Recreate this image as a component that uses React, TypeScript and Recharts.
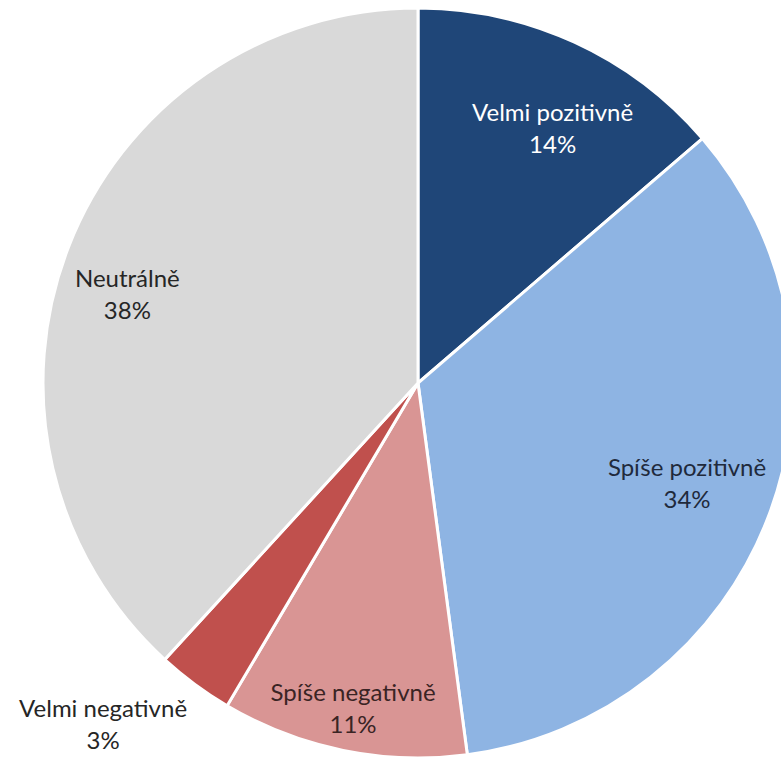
import { PieChart, Pie, Cell } from "recharts"

const categories = ["Velmi pozitivně", "Spíše pozitivně", "Spíše negativně", "Velmi negativně", "Neutrálně"]
const shares = [13.7, 34.2, 10.6, 3.3, 38.2]
const colors = ["#1F4678", "#8EB4E3", "#D99594", "#C0504D", "#D9D9D9"]
const textColors = ["#FFFFFF", "#1F2A3C", "#3A2424", "#262626", "#262626"]

// label placement per slice: distance from centre, angle shift (deg, clockwise)
const labelRadius = [288, 287, 331, 464, 304]
const labelShift = [3.2, -0.5, -0.2, 6.2, -4.2]

const data = categories.map((name, i) => ({ name, value: shares[i] }))

const RAD = Math.PI / 180

function renderLabel(props: any) {
  const { cx, cy, midAngle, index, name, value } = props
  const a = (midAngle - labelShift[index]) * RAD
  const r = labelRadius[index]
  const x = cx + r * Math.cos(-a)
  const y = cy + r * Math.sin(-a)
  return (
    <text
      x={x}
      y={y}
      textAnchor="middle"
      fill={textColors[index]}
      fontFamily="Lato, sans-serif"
      fontSize={24}
    >
      <tspan x={x} dy={-7}>{name}</tspan>
      <tspan x={x} dy={32}>{`${Math.round(value)}%`}</tspan>
    </text>
  )
}

export default function App() {
  return (
    <div style={{ position: "absolute", left: 0, top: 0, width: 781, height: 758, background: "#fff" }}>
      <PieChart width={781} height={758}>
        <Pie
          data={data}
          dataKey="value"
          nameKey="name"
          cx={413}
          cy={378}
          outerRadius={375}
          startAngle={90}
          endAngle={-270}
          stroke="#FFFFFF"
          strokeWidth={3}
          label={renderLabel}
          labelLine={false}
          isAnimationActive={false}
        >
          {data.map((entry, index) => (
            <Cell key={entry.name} fill={colors[index]} />
          ))}
        </Pie>
      </PieChart>
    </div>
  )
}
